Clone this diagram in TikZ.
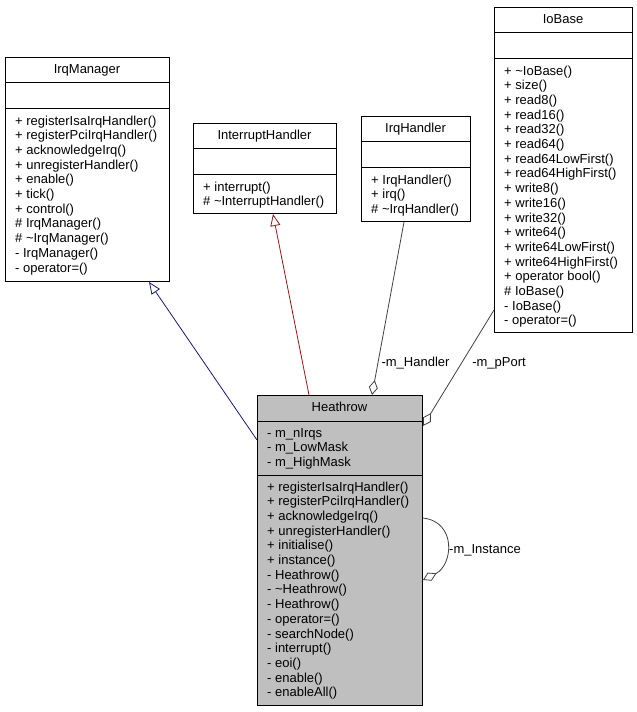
\documentclass[tikz,border=0pt]{standalone}
\usepackage{fontspec}
\setmainfont{Liberation Sans}
\usetikzlibrary{arrows.meta,calc}
\definecolor{inhblue}{HTML}{191970}
\definecolor{inhred}{HTML}{8B1A1A}
\definecolor{usegray}{HTML}{404040}
\definecolor{curfill}{HTML}{BFBFBF}
\newcommand\umllines[4]{%
  \foreach \t [count=\i from 0] in {#4}
    \node[umltext] (#1\i) at (#2,{#3+4+\i*14.7}) {\t};}
\begin{document}
\begin{tikzpicture}[x=1pt,y=-1pt,
  every node/.style={font=\fontsize{13}{14.7}\selectfont},
  umlbox/.style={draw=black, line width=1pt, fill=white, anchor=north west,
    inner sep=0pt, minimum width=#1},
  umltext/.style={anchor=base west, inner sep=0pt},
  umltitle/.style={anchor=base, inner sep=0pt},
  divider/.style={draw=black, line width=1pt},
  inhb/.style={draw=inhblue, line width=0.8pt,
    -{Triangle[open, length=12pt, width=10pt, fill=white]}},
  inhr/.style={draw=inhred, line width=0.8pt,
    -{Triangle[open, length=12pt, width=10pt, fill=white]}},
  uses/.style={draw=usegray, line width=0.8pt,
    -{Diamond[open, length=15pt, width=9pt, fill=white]}},
  elabel/.style={inner sep=0pt}
]
\useasboundingbox (0,0) rectangle (637,712);

% IrqManager
\node[umlbox=164pt, minimum height=224pt] (im) at (5,57) {};
\draw[divider] ($(im.north west)+(0,25)$) -- ($(im.north east)+(0,25)$);
\draw[divider] ($(im.north west)+(0,51)$) -- ($(im.north east)+(0,51)$);
\node[umltitle] (imt) at (87,{57+12.5+4}) {IrqManager};
\umllines{imm}{15}{121}{{+ registerIsaIrqHandler()},{+ registerPciIrqHandler()},{+ acknowledgeIrq()},{+ unregisterHandler()},{+ enable()},{+ tick()},{+ control()},{\# IrqManager()},{\# \textasciitilde IrqManager()},{- IrqManager()},{- operator=()}}

% InterruptHandler
\node[umlbox=143pt, minimum height=90pt] (ih) at (193,123) {};
\draw[divider] ($(ih.north west)+(0,25)$) -- ($(ih.north east)+(0,25)$);
\draw[divider] ($(ih.north west)+(0,51)$) -- ($(ih.north east)+(0,51)$);
\node[umltitle] (iht) at (264.5,{123+12.5+4}) {InterruptHandler};
\umllines{ihm}{203}{187}{{+ interrupt()},{\# \textasciitilde InterruptHandler()}}

% IrqHandler
\node[umlbox=109pt, minimum height=105pt] (irq) at (361,116) {};
\draw[divider] ($(irq.north west)+(0,25)$) -- ($(irq.north east)+(0,25)$);
\draw[divider] ($(irq.north west)+(0,51)$) -- ($(irq.north east)+(0,51)$);
\node[umltitle] (irqt) at (415.5,{116+12.5+4}) {IrqHandler};
\umllines{irqm}{371}{180}{{+ IrqHandler()},{+ irq()},{\# \textasciitilde IrqHandler()}}

% IoBase
\node[umlbox=138pt, minimum height=325pt] (io) at (494,7) {};
\draw[divider] ($(io.north west)+(0,25)$) -- ($(io.north east)+(0,25)$);
\draw[divider] ($(io.north west)+(0,51)$) -- ($(io.north east)+(0,51)$);
\node[umltitle] (iot) at (563,{7+12.5+4}) {IoBase};
\umllines{iom}{504}{71}{{+ \textasciitilde IoBase()},{+ size()},{+ read8()},{+ read16()},{+ read32()},{+ read64()},{+ read64LowFirst()},{+ read64HighFirst()},{+ write8()},{+ write16()},{+ write32()},{+ write64()},{+ write64LowFirst()},{+ write64HighFirst()},{+ operator bool()},{\# IoBase()},{- IoBase()},{- operator=()}}

% Heathrow
\node[umlbox=165pt, minimum height=310pt, fill=curfill] (hw) at (257,395) {};
\draw[divider] ($(hw.north west)+(0,26)$) -- ($(hw.north east)+(0,26)$);
\draw[divider] ($(hw.north west)+(0,80)$) -- ($(hw.north east)+(0,80)$);
\node[umltitle] (hwt) at (339.5,{395+12.5+4}) {Heathrow};
\umllines{hwa}{267}{433}{{- m\_nIrqs},{- m\_LowMask},{- m\_HighMask}}
\umllines{hwm}{267}{487}{{+ registerIsaIrqHandler()},{+ registerPciIrqHandler()},{+ acknowledgeIrq()},{+ unregisterHandler()},{+ initialise()},{+ instance()},{- Heathrow()},{- \textasciitilde Heathrow()},{- Heathrow()},{- operator=()},{- searchNode()},{- interrupt()},{- eoi()},{- enable()},{- enableAll()}}

% connectors
\draw[inhb] ($(hw.north west)+(0,45)$) -- ($(im.south west)+(144,0)$);
\draw[inhr] ($(hw.north west)+(52,0)$) -- ($(ih.south west)+(80,0)$);
\draw[uses] ($(irq.south west)+(43,0)$) -- ($(hw.north west)+(115,0)$);
\draw[uses] ($(io.north west)+(0,303)$) -- ($(hw.north east)+(0,31)$);
\draw[uses] ($(hw.north east)+(0,123)$) .. controls ($(hw.north east)+(34,127)$) and ($(hw.north east)+(30,170)$) .. ($(hw.north east)+(0,185)$);

\node[elabel] (lh) at (415.5,363) {-m\_Handler};
\node[elabel] (lp) at (499,363) {-m\_pPort};
\node[elabel] (li) at (485,550) {-m\_Instance};
\end{tikzpicture}
\end{document}
